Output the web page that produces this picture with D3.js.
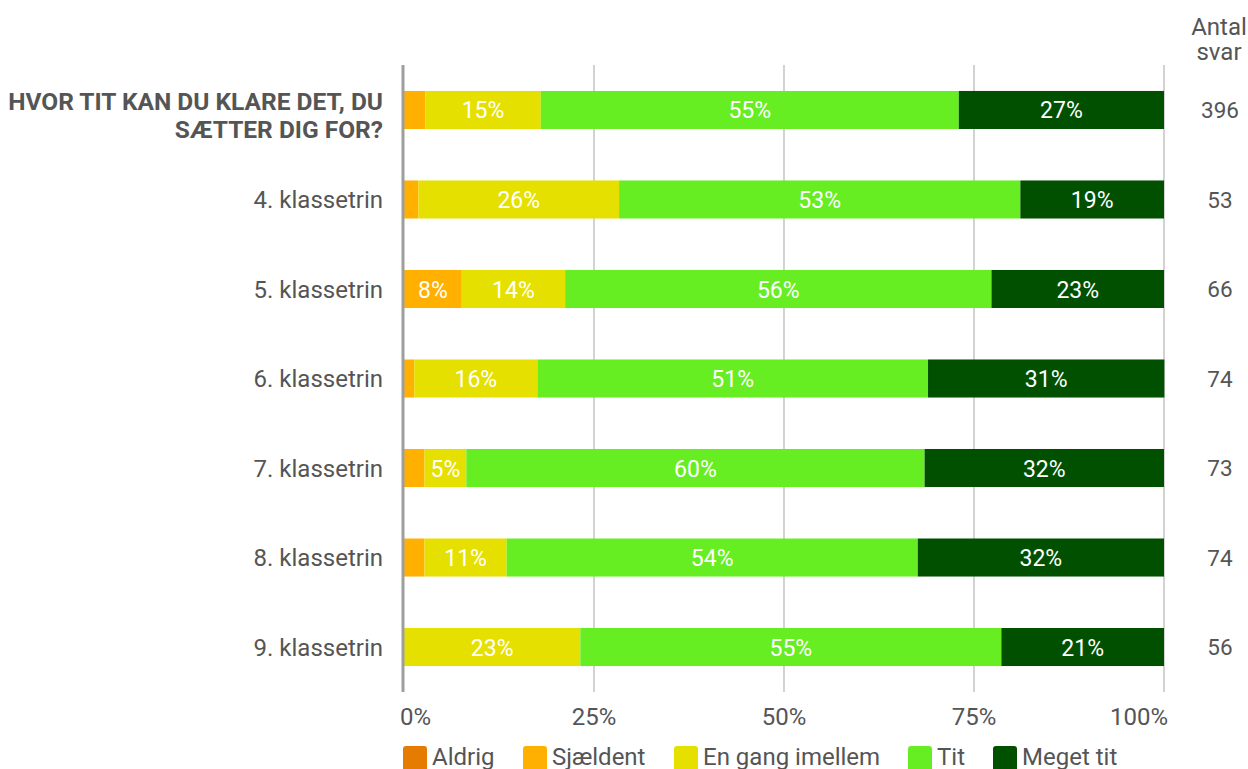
<!DOCTYPE html>
<html>
<head>
<meta charset="utf-8">
<script src="https://cdn.jsdelivr.net/npm/d3@7"></script>
<style>
html,body{margin:0;padding:0;background:#fff;overflow:hidden;}
svg{display:block;font-family:Roboto, "Noto Sans", sans-serif;}
</style>
</head>
<body>
<svg id="chart" width="1248" height="769"></svg>
<script>
const categories = ["HVOR TIT KAN DU KLARE DET, DU SÆTTER DIG FOR?", "4. klassetrin", "5. klassetrin", "6. klassetrin", "7. klassetrin", "8. klassetrin", "9. klassetrin"];
const seriesNames = ["Aldrig", "Sjældent", "En gang imellem", "Tit", "Meget tit"];
const aldrig    = [0, 0, 0, 0, 0, 0, 0];
const sjaeldent = [2.8, 1.9, 7.6, 1.35, 2.7, 2.7, 0];
const engang    = [15.2, 26.4, 13.6, 16.2, 5.5, 10.8, 23.2];
const tit       = [55.0, 52.8, 56.1, 51.4, 60.3, 54.1, 55.4];
const megettit  = [27.0, 18.9, 22.7, 31.1, 31.5, 32.4, 21.4];
const antalSvar = [396, 53, 66, 74, 73, 74, 56];
const xTicks = [0, 25, 50, 75, 100];
const colors = ["#E57C00", "#FFB000", "#E6E000", "#66EE22", "#005000"];

const seriesValues = [aldrig, sjaeldent, engang, tit, megettit];
const rows = categories.map((c, i) => {
  const r = {cat: c};
  seriesNames.forEach((s, j) => r[s] = seriesValues[j][i]);
  return r;
});

const svg = d3.select("#chart");
const mLeft = 404, mRight = 1164, mTop = 65, mBottom = 692;
const x = d3.scaleLinear().domain([0, 100]).range([mLeft, mRight]);
const y = d3.scaleBand().domain(categories).range([mTop, mBottom]).paddingInner(0.575).paddingOuter(0.29);
const textColor = "#555";

// gridlines
svg.append("g").selectAll("line").data(xTicks.slice(1)).join("line")
  .attr("x1", d => x(d)).attr("x2", d => x(d))
  .attr("y1", mTop).attr("y2", mBottom)
  .attr("stroke", "#b5b5b5").attr("stroke-width", 1.2);

const stack = d3.stack().keys(seriesNames)(rows);

const g = svg.append("g");
stack.forEach((layer, si) => {
  g.append("g").selectAll("rect").data(layer).join("rect")
    .attr("x", d => x(d[0]))
    .attr("width", d => Math.max(0, x(d[1]) - x(d[0])))
    .attr("y", d => y(d.data.cat))
    .attr("height", y.bandwidth())
    .attr("fill", colors[si]);
  g.append("g").selectAll("text").data(layer.filter(d => (d[1] - d[0]) >= 4.5)).join("text")
    .attr("x", d => (x(d[0]) + x(d[1])) / 2)
    .attr("y", d => y(d.data.cat) + y.bandwidth() / 2)
    .attr("dy", "0.37em")
    .attr("text-anchor", "middle")
    .attr("fill", "#fff")
    .attr("font-size", 23)
    .text(d => Math.round(d[1] - d[0]) + "%");
});

// axis line
svg.append("line").attr("x1", mLeft - 1).attr("x2", mLeft - 1).attr("y1", mTop).attr("y2", mBottom)
  .attr("stroke", "#9e9e9e").attr("stroke-width", 3);

// x tick labels
svg.append("g").selectAll("text").data(xTicks).join("text")
  .attr("x", d => d === 0 ? x(d) - 4 : (d === 100 ? x(d) + 4 : x(d))).attr("y", 725)
  .attr("text-anchor", d => d === 0 ? "start" : (d === 100 ? "end" : "middle"))
  .attr("font-size", 24).attr("fill", textColor)
  .text(d => d + "%");

// category labels
categories.forEach((c, i) => {
  const cy = y(c) + y.bandwidth() / 2;
  if (i === 0) {
    const t = svg.append("text").attr("text-anchor", "end").attr("font-size", 24.5)
      .attr("font-weight", "bold").attr("fill", textColor);
    t.append("tspan").attr("x", 383).attr("y", cy).text("HVOR TIT KAN DU KLARE DET, DU");
    t.append("tspan").attr("x", 383).attr("y", cy + 28).text("SÆTTER DIG FOR?");
  } else {
    svg.append("text").attr("x", 383).attr("y", cy).attr("dy", "0.37em")
      .attr("text-anchor", "end").attr("font-size", 24).attr("fill", textColor).text(c);
  }
});

// Antal svar
svg.append("text").attr("x", 1219).attr("y", 35).attr("text-anchor", "middle")
  .attr("font-size", 24).attr("fill", textColor).text("Antal");
svg.append("text").attr("x", 1219).attr("y", 60).attr("text-anchor", "middle")
  .attr("font-size", 24).attr("fill", textColor).text("svar");
svg.append("g").selectAll("text").data(antalSvar).join("text")
  .attr("x", 1220).attr("y", (d, i) => y(categories[i]) + y.bandwidth() / 2)
  .attr("dy", "0.37em").attr("text-anchor", "middle")
  .attr("font-size", 22.5).attr("fill", textColor).text(d => d);

// legend
const legendX = [403, 523, 674, 908, 993];
const lg = svg.append("g");
seriesNames.forEach((s, i) => {
  lg.append("rect").attr("x", legendX[i]).attr("y", 746).attr("width", 24).attr("height", 28)
    .attr("rx", 3).attr("fill", colors[i]);
  lg.append("text").attr("x", legendX[i] + 29).attr("y", 765)
    .attr("font-size", 24).attr("fill", textColor).text(s);
});
</script>
</body>
</html>
